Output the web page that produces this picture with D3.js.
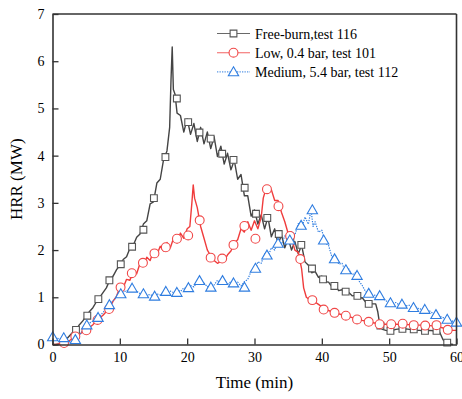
<!DOCTYPE html>
<html><head><meta charset="utf-8">
<script src="https://cdn.jsdelivr.net/npm/d3@7"></script>
<style>
html,body{margin:0;padding:0;background:#fff;}
svg{display:block;}
text{font-family:"Liberation Serif","Times New Roman",serif;fill:#000;}
</style></head>
<body><svg id="c" width="462" height="399"></svg>
<script>
const xTicks = [0,10,20,30,40,50,60];
const yTicks = [0,1,2,3,4,5,6,7];
const seriesNames = ["Free-burn,test 116","Low, 0.4 bar, test 101","Medium, 5.4 bar, test 112"];

const freeBurn = [[0,0],[0.5,0],[1,0.01],[1.5,0.05],[2,0.1],[2.5,0.18],[3,0.26],[3.5,0.31],[4,0.42],[4.5,0.5],[5,0.6],[5.5,0.7],[6,0.78],[6.5,0.9],[7,1.0],[7.5,1.1],[8,1.2],[8.5,1.36],[9,1.45],[9.5,1.58],[10,1.68],[10.5,1.8],[11,1.86],[11.5,2.04],[12,2.1],[12.5,2.27],[13,2.34],[13.5,2.55],[14,2.62],[14.5,2.98],[15,3.02],[15.5,3.42],[16,3.5],[16.5,3.92],[17,4.1],[17.4,4.6],[17.6,5.6],[17.78,6.3],[17.95,5.4],[18.2,5.3],[18.5,4.9],[19,4.85],[19.5,4.5],[20,4.78],[20.5,4.45],[21,4.68],[21.5,4.3],[22,4.6],[22.5,4.25],[23,4.5],[23.5,4.15],[24,4.4],[24.5,3.98],[25,4.2],[25.5,3.82],[26,4.05],[26.5,3.7],[27,3.9],[27.5,3.5],[28,3.6],[28.5,3.15],[29,3.15],[29.5,2.72],[30,2.85],[30.5,2.55],[31,2.75],[31.5,2.45],[32,2.7],[32.5,2.28],[33,2.45],[33.5,2.12],[34,2.32],[34.5,2.05],[35,2.25],[35.5,2.0],[36,2.18],[36.5,1.92],[37,2.1],[37.5,1.75],[38,1.68],[38.5,1.52],[39,1.55],[39.5,1.42],[40,1.45],[40.5,1.33],[41,1.32],[41.5,1.22],[42,1.24],[42.5,1.14],[43,1.16],[43.5,1.08],[44,1.1],[44.5,1.03],[45,1.04],[45.5,0.98],[46,0.99],[46.5,0.9],[47,0.9],[47.5,0.86],[48,0.86],[48.3,0.7],[48.6,0.42],[49,0.32],[49.5,0.3],[50,0.29],[50.5,0.3],[51,0.32],[51.5,0.33],[52,0.32],[52.5,0.33],[53,0.32],[53.5,0.31],[54,0.3],[54.5,0.3],[55,0.29],[55.5,0.29],[56,0.3],[56.5,0.29],[57,0.29],[57.5,0.26],[58,0.1],[58.5,0.03],[59,0.01],[59.5,0]];
const freeBurnMarkers = [[3.49,0.31],[5.17,0.61],[6.81,0.96],[8.45,1.36],[10.14,1.7],[11.82,2.07],[13.5,2.43],[15.06,3.1],[16.77,3.97],[18.47,5.21],[20.15,4.71],[21.83,4.49],[23.49,4.36],[25.2,4.04],[26.88,3.91],[28.54,3.32],[30.22,2.77],[31.9,2.68],[33.6,2.34],[35.32,2.21],[36.95,2.11],[38.54,1.61],[40.18,1.38],[41.86,1.24],[43.54,1.12],[45.28,1.03],[46.96,0.86],[48.7,0.4],[50.19,0.29],[51.97,0.33],[53.65,0.32],[55.32,0.29],[57.03,0.29],[58.62,0.04]];

const low = [[0,0],[0.5,0],[1,0.01],[1.5,0.02],[2,0.04],[2.5,0.08],[3,0.13],[3.5,0.18],[4,0.22],[4.5,0.26],[5,0.3],[5.5,0.36],[6,0.42],[6.5,0.5],[7,0.56],[7.5,0.62],[8,0.7],[8.5,0.78],[9,0.92],[9.5,1.02],[10,1.2],[10.5,1.2],[11,1.38],[11.5,1.36],[12,1.56],[12.5,1.5],[13,1.72],[13.5,1.66],[14,1.85],[14.5,1.78],[15,1.98],[15.5,1.9],[16,2.08],[16.5,1.98],[17,2.16],[17.5,2.05],[18,2.26],[18.5,2.15],[19,2.36],[19.5,2.25],[20,2.45],[20.4,2.5],[20.7,3.0],[20.9,3.38],[21.1,3.1],[21.5,2.9],[22,2.5],[22.5,2.25],[23,2.0],[23.5,1.88],[24,1.78],[24.5,1.72],[25,1.76],[25.5,1.78],[26,1.9],[26.5,1.98],[27,2.15],[27.5,2.22],[28,2.45],[28.5,2.38],[29,2.6],[29.5,2.42],[30,2.62],[30.5,2.45],[31,2.7],[31.3,3.1],[31.7,3.3],[32,3.2],[32.5,3.28],[33,3.05],[33.5,3.05],[34,2.8],[34.5,2.6],[35,2.35],[35.5,2.25],[36,2.0],[36.5,1.95],[37,1.6],[37.3,1.2],[37.7,1.0],[38,0.97],[38.5,0.95],[39,0.9],[39.5,0.85],[40,0.8],[40.5,0.76],[41,0.72],[41.5,0.69],[42,0.67],[43,0.63],[44,0.59],[45,0.55],[46,0.51],[47,0.48],[48,0.45],[49,0.43],[50,0.43],[51,0.43],[52,0.42],[53,0.42],[54,0.41],[55,0.41],[56,0.4],[57,0.39],[58,0.35],[58.5,0.31],[59,0.3],[60,0.3]];
const lowMarkers = [[1.71,0.03],[3.39,0.17],[5.03,0.3],[6.69,0.52],[8.4,0.75],[10.11,1.21],[11.78,1.51],[13.43,1.73],[15.14,1.93],[16.83,2.06],[18.48,2.24],[20.15,2.31],[21.86,2.63],[23.49,1.84],[25.2,1.82],[26.88,2.11],[28.5,2.51],[30.14,2.24],[31.85,3.29],[33.56,2.93],[35.29,2.3],[36.8,1.81],[38.59,0.94],[40.27,0.74],[41.89,0.67],[43.57,0.61],[45.23,0.53],[46.96,0.48],[48.58,0.43],[50.3,0.43],[52.01,0.44],[53.65,0.41],[55.35,0.4],[57.03,0.41],[58.7,0.31]];

const medium = [[0,0.15],[0.5,0.14],[1,0.12],[1.5,0.13],[2,0.1],[2.5,0.06],[3,0.04],[3.5,0.1],[4,0.2],[4.5,0.3],[5,0.4],[5.5,0.45],[6,0.5],[6.5,0.56],[7,0.6],[7.5,0.68],[8,0.75],[8.5,0.84],[9,0.93],[9.5,1.0],[10,1.06],[10.5,1.12],[11,1.13],[11.5,1.2],[12,1.15],[12.5,1.13],[13,1.08],[13.5,1.08],[14,1.04],[14.5,1.06],[15,1.02],[15.5,1.07],[16,1.05],[16.5,1.11],[17,1.08],[17.5,1.13],[18,1.1],[18.5,1.15],[19,1.12],[19.5,1.2],[20,1.18],[20.5,1.25],[21,1.22],[21.5,1.33],[22,1.28],[22.5,1.3],[23,1.22],[23.5,1.28],[24,1.26],[24.5,1.36],[25,1.3],[25.5,1.36],[26,1.28],[26.5,1.33],[27,1.27],[27.5,1.32],[28,1.24],[28.5,1.33],[29,1.38],[29.5,1.55],[30,1.55],[30.5,1.75],[31,1.72],[31.5,1.92],[32,1.86],[32.5,2.05],[33,2.0],[33.5,2.2],[34,2.12],[34.5,2.3],[35,2.2],[35.5,2.4],[36,2.32],[36.5,2.56],[37,2.45],[37.5,2.7],[38,2.55],[38.4,2.85],[38.7,2.5],[39,2.6],[39.5,2.38],[40,2.42],[40.5,2.15],[41,2.1],[41.5,1.85],[42,1.9],[42.5,1.7],[43,1.72],[43.5,1.55],[44,1.6],[44.5,1.48],[45,1.52],[45.5,1.35],[46,1.25],[46.5,1.12],[47,1.1],[47.5,1.03],[48,1.05],[48.5,0.98],[49,1.0],[49.5,0.92],[50,0.92],[50.5,0.87],[51,0.89],[51.5,0.84],[52,0.86],[52.5,0.82],[53,0.83],[53.5,0.78],[54,0.79],[54.5,0.75],[55,0.76],[55.5,0.72],[56,0.71],[56.5,0.66],[57,0.64],[57.5,0.6],[58,0.57],[58.5,0.54],[59,0.52],[59.5,0.49],[60,0.47]];
const mediumMarkers = [[0.03,0.16],[1.67,0.14],[3.39,0.1],[5.09,0.41],[6.77,0.57],[8.45,0.84],[10.14,1.07],[11.82,1.19],[13.5,1.07],[15.17,1.02],[16.83,1.12],[18.47,1.1],[20.19,1.2],[21.83,1.35],[23.52,1.21],[25.25,1.35],[26.88,1.3],[28.51,1.21],[30.14,1.61],[31.85,1.89],[33.5,2.14],[35.24,2.21],[36.92,2.52],[38.59,2.85],[40.27,2.21],[41.89,1.81],[43.57,1.58],[45.23,1.46],[46.96,1.08],[48.59,1.03],[50.19,0.88],[51.9,0.85],[53.61,0.78],[55.29,0.74],[56.95,0.63],[58.62,0.53],[60,0.47]];

const svg = d3.select("#c");
const x = d3.scaleLinear().domain([0,60]).range([52.5,456.5]);
const y = d3.scaleLinear().domain([0,7]).range([344.5,14]);
const axisColor = "#333";

const series = [
  {name:seriesNames[0], data:freeBurn, markers:freeBurnMarkers, color:"#444", mcolor:"#555", shape:"square", dash:null, w:1.4},
  {name:seriesNames[1], data:low, markers:lowMarkers, color:"#f03c3c", mcolor:"#f04848", shape:"circle", dash:null, w:1.4},
  {name:seriesNames[2], data:medium, markers:mediumMarkers, color:"#2f7de0", mcolor:"#2f7de0", shape:"triangle", dash:"1.3,1.2", w:1.2}
];

const line = d3.line().x(d=>x(d[0])).y(d=>y(d[1]));
const sym = {square:d3.symbol(d3.symbolSquare,46), circle:d3.symbol(d3.symbolCircle,62), triangle:d3.symbol(d3.symbolTriangle,46)};

const plot = svg.append("g");
series.forEach(s=>{
  plot.append("path").datum(s.data).attr("d",line).attr("fill","none")
    .attr("stroke",s.color).attr("stroke-width",s.w).attr("stroke-linejoin","round")
    .attr("stroke-dasharray",s.dash);
});
series.forEach(s=>{
  plot.selectAll(null).data(s.markers).enter().append("path")
    .attr("d",sym[s.shape]())
    .attr("transform",d=>`translate(${x(d[0])},${y(d[1]) + (s.shape==="triangle"?0.8:0)})`)
    .attr("fill","#fff").attr("stroke",s.mcolor).attr("stroke-width",1.1);
});

// axes
const xAxis = d3.axisBottom(x).tickValues(xTicks).tickFormat(d3.format("d")).tickSizeInner(-6).tickSizeOuter(0).tickPadding(8);
const yAxis = d3.axisLeft(y).tickValues(yTicks).tickFormat(d3.format("d")).tickSizeInner(-6).tickSizeOuter(0).tickPadding(8);
const gx = svg.append("g").attr("transform","translate(0,344.5)").call(xAxis);
const gy = svg.append("g").attr("transform","translate(52.5,0)").call(yAxis);
[gx,gy].forEach(g=>{
  g.attr("font-family",null).attr("font-size",null);
  g.select(".domain").attr("stroke",axisColor).attr("stroke-width",1.6);
  g.selectAll(".tick line").attr("stroke",axisColor).attr("stroke-width",1.3);
  g.selectAll(".tick text").attr("font-size",14).attr("fill","#000");
});
// frame top & right
svg.append("line").attr("x1",x(0)).attr("x2",x(60)).attr("y1",y(7)).attr("y2",y(7)).attr("stroke",axisColor).attr("stroke-width",1.6);
svg.append("line").attr("x1",x(60)).attr("x2",x(60)).attr("y1",y(7)).attr("y2",y(0)).attr("stroke",axisColor).attr("stroke-width",1.6);

// titles
svg.append("text").attr("x",(x(0)+x(60))/2).attr("y",388).attr("text-anchor","middle").attr("font-size",17).text("Time (min)");
svg.append("text").attr("transform",`translate(22,${(y(0)+y(7))/2}) rotate(-90)`).attr("text-anchor","middle").attr("font-size",17).text("HRR (MW)");

// legend
const leg = svg.append("g");
series.forEach((s,i)=>{
  const ly = 33.5 + i*19.2;
  leg.append("line").attr("x1",217).attr("x2",250).attr("y1",ly).attr("y2",ly)
    .attr("stroke",s.color).attr("stroke-width",1.1).attr("stroke-dasharray",s.dash).attr("opacity",0.8);
  leg.append("path").attr("d",sym[s.shape]()).attr("transform",`translate(233.5,${ly+(s.shape==="triangle"?0.8:0)})`)
    .attr("fill","#fff").attr("stroke",s.mcolor).attr("stroke-width",1.1);
  leg.append("text").attr("x",255).attr("y",ly+5).attr("font-size",14).text(s.name);
});
</script></body></html>
